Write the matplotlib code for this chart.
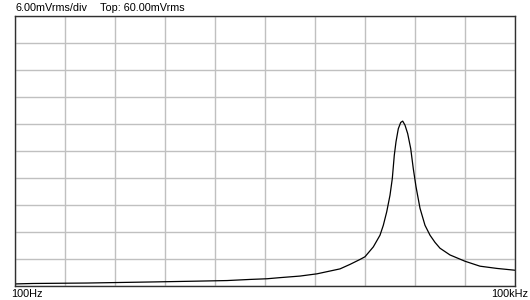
import numpy as np
import matplotlib
matplotlib.use('Agg')
import matplotlib.pyplot as plt

# Frequency response (Hz, mVrms)
freq_hz = [100, 128, 270, 692, 1236, 1871, 2570, 3251, 3890, 5129, 6486,
           7943, 8913, 10233, 11749, 12589, 14125, 15488, 16212, 16992,
           17783, 18356, 18870, 19320, 19944, 20616, 21194, 21878, 22709,
           23668, 24535, 25468, 26915, 28840, 30903, 33113, 35481, 40738,
           50119, 61660, 77983, 100000]
level_mv = [0.35, 0.45, 0.55, 0.8, 0.97, 1.1, 1.35, 1.5, 1.75, 2.1, 2.6,
            3.3, 3.7, 4.7, 5.8, 6.4, 8.6, 11.2, 13.4, 16.4,
            20.1, 23.8, 29.0, 32.0, 34.9, 36.3, 36.6, 35.7, 33.8,
            30.5, 26.0, 22.0, 17.2, 13.4, 11.2, 9.6, 8.3, 6.8,
            5.4, 4.3, 3.8, 3.4]

volts_per_div = 6.0
top_mv = 60.0
f_start, f_stop = 100, 100000

plt.rcParams['font.family'] = ['Liberation Sans', 'DejaVu Sans']

fig = plt.figure(figsize=(5.3, 3.0), dpi=100)
ax = fig.add_axes([15 / 530, (300 - 285.5) / 300, 500 / 530, 269.5 / 300])

ax.plot(freq_hz, level_mv, color='black', lw=0.9)

ax.set_xscale('log')
ax.set_xlim(f_start, f_stop)
ax.set_ylim(0, top_mv)

# 10 divisions each way, like the scope screen
dec = np.log10(f_stop / f_start)
ax.set_xticks(f_start * 10 ** (np.arange(11) * dec / 10))
ax.set_xticks([], minor=True)
ax.set_yticks(np.arange(0, top_mv + 0.1, volts_per_div))
ax.grid(True, color='#c0c0c0', lw=1.0)
ax.tick_params(length=0, labelbottom=False, labelleft=False)
for s in ax.spines.values():
    s.set_color('#303030')
    s.set_linewidth(1.0)

fs = 7.8
fig.text(16 / 530, 1 - 8 / 300, '%.2fmVrms/div' % volts_per_div,
         fontsize=fs, va='center', ha='left')
fig.text(100 / 530, 1 - 8 / 300, 'Top: %.2fmVrms' % top_mv,
         fontsize=fs, va='center', ha='left')
fig.text(11 / 530, 1 - 294 / 300, '100Hz', fontsize=fs, va='center', ha='left')
fig.text(528 / 530, 1 - 294 / 300, '100kHz', fontsize=fs, va='center', ha='right')

fig.savefig('out.png', dpi=100)
